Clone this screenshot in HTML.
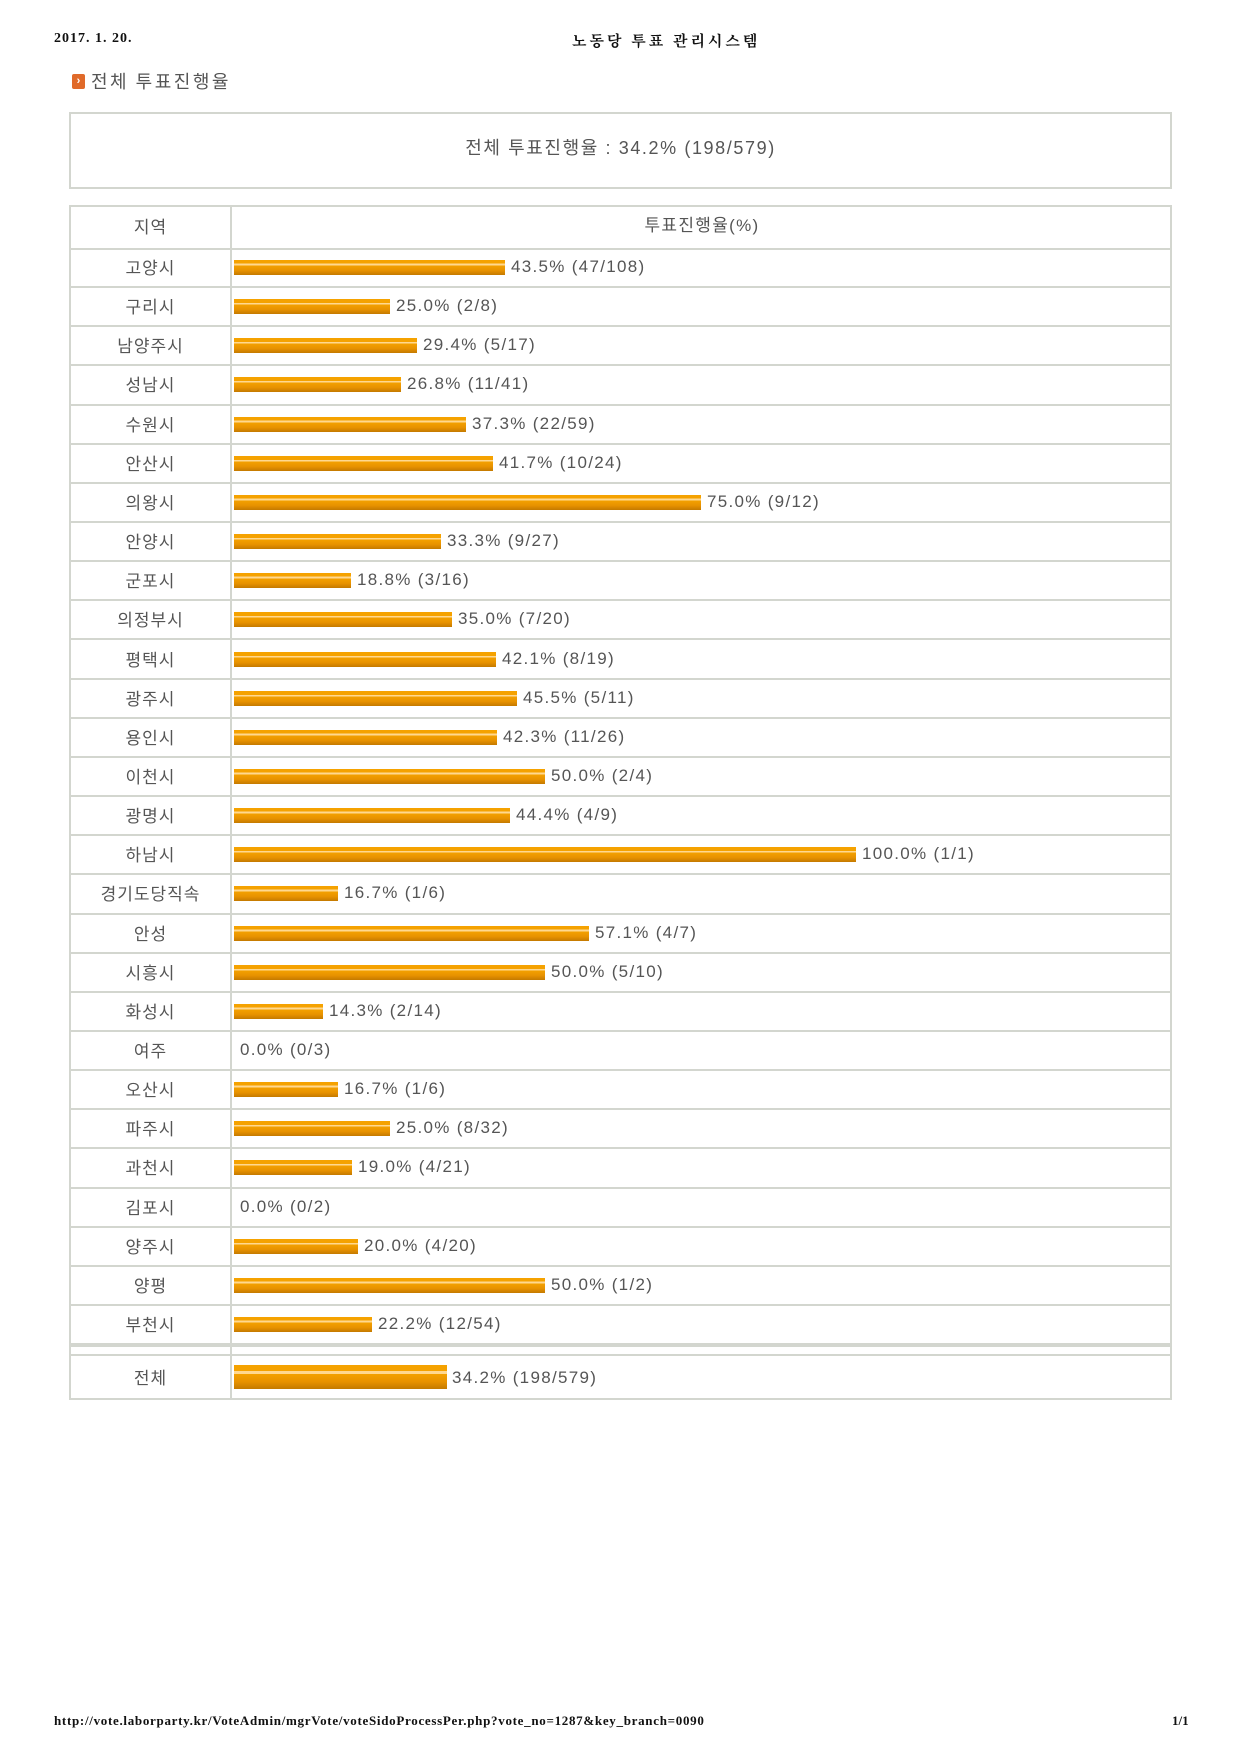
<!DOCTYPE html>
<html><head><meta charset="utf-8"><style>
body{margin:0;width:1240px;height:1754px;background:#fff;position:relative;overflow:hidden;font-family:"Liberation Sans","Noto Sans CJK KR","NanumGothic",sans-serif;color:#555}
.a{position:absolute}
.hd{font-family:"Liberation Serif","Noto Serif CJK SC","NanumGothic",serif;font-weight:bold;font-size:14px;color:#111}
.box{border:2px solid #d3d6cf;box-sizing:border-box}
.row{position:absolute;left:70px;width:1101px;border-bottom:2px solid #d3d6cf;box-sizing:border-box}
.lab{position:absolute;left:0;width:161px;text-align:center;font-size:17px;color:#555;font-family:"Noto Sans CJK KR",sans-serif;line-height:20px;letter-spacing:1px}
.bar{position:absolute;left:164px;height:15px;background:linear-gradient(#f5a200 0%,#f5a200 25%,#ffd890 25%,#ffd890 38%,#f3a000 38%,#e89200 70%,#c47a00 100%)}
.val{position:absolute;font-size:17px;color:#555;white-space:nowrap;letter-spacing:1.3px;line-height:20px}
</style></head><body>
<div class="a hd" style="left:54px;top:31px;letter-spacing:1px">2017. 1. 20.</div>
<div class="a hd" style="left:572px;top:30px;font-size:15px;letter-spacing:3px">노동당 투표 관리시스템</div>
<div class="a" style="left:72px;top:74px;width:13px;height:15px;background:#e06a2a;border-radius:2px;color:#fff;font-size:11px;line-height:15px;text-align:center;font-weight:bold">›</div>
<div class="a" style="left:91px;top:70px;font-size:18px;color:#555;letter-spacing:2.5px;font-family:'Noto Sans CJK KR',sans-serif;line-height:22px">전체 투표진행율</div>
<div class="a box" style="left:69px;top:112px;width:1103px;height:77px"></div>
<div class="a" style="left:69px;top:137px;width:1103px;text-align:center;font-size:18px;letter-spacing:1.6px;line-height:22px">전체 투표진행율 : 34.2% (198/579)</div>
<div class="a box" style="left:69px;top:205px;width:1103px;height:1195px;border-bottom:none"></div>
<div class="a" style="left:230px;top:206px;width:2px;height:1193px;background:#d3d6cf"></div>
<div class="row" style="top:206px;height:44px"><div class="lab" style="top:10px">지역</div><div class="a" style="left:163px;width:938px;top:10px;text-align:center;font-size:17px;letter-spacing:1.3px;line-height:20px">투표진행율(%)</div></div>
<div id="rows"></div>
<div class="a" style="left:70px;top:1345px;width:1101px;height:2px;background:#d3d6cf"></div>
<div class="row" style="top:1354px;height:46px;border-top:2px solid #d3d6cf"><div class="lab" style="top:11px">전체</div><div class="bar" style="top:9px;height:24px;width:213px"></div><div class="val" style="left:382px;top:12px">34.2% (198/579)</div></div>
<div class="a hd" style="left:54px;top:1713px;font-size:13px;letter-spacing:0.7px">http://vote.laborparty.kr/VoteAdmin/mgrVote/voteSidoProcessPer.php?vote_no=1287&amp;key_branch=0090</div>
<div class="a hd" style="left:1172px;top:1713px;font-size:13px">1/1</div>
<script>
var d=[["고양시",43.5,"47/108"],["구리시",25.0,"2/8"],["남양주시",29.4,"5/17"],["성남시",26.8,"11/41"],["수원시",37.3,"22/59"],["안산시",41.7,"10/24"],["의왕시",75.0,"9/12"],["안양시",33.3,"9/27"],["군포시",18.8,"3/16"],["의정부시",35.0,"7/20"],["평택시",42.1,"8/19"],["광주시",45.5,"5/11"],["용인시",42.3,"11/26"],["이천시",50.0,"2/4"],["광명시",44.4,"4/9"],["하남시",100.0,"1/1"],["경기도당직속",16.7,"1/6"],["안성",57.1,"4/7"],["시흥시",50.0,"5/10"],["화성시",14.3,"2/14"],["여주",0.0,"0/3"],["오산시",16.7,"1/6"],["파주시",25.0,"8/32"],["과천시",19.0,"4/21"],["김포시",0.0,"0/2"],["양주시",20.0,"4/20"],["양평",50.0,"1/2"],["부천시",22.2,"12/54"]];
var h="";
for(var i=0;i<d.length;i++){var t=249+i*39.15,w=Math.round(d[i][1]*6.22);
h+='<div class="row" style="top:'+t+'px;height:39.15px"><div class="lab" style="top:8px">'+d[i][0]+'</div>'+(w>0?'<div class="bar" style="top:11px;width:'+w+'px"></div>':'')+'<div class="val" style="left:'+(164+w+6)+'px;top:8px">'+d[i][1].toFixed(1)+'% ('+d[i][2]+')</div></div>';}
document.getElementById("rows").innerHTML=h;
</script>
</body></html>
